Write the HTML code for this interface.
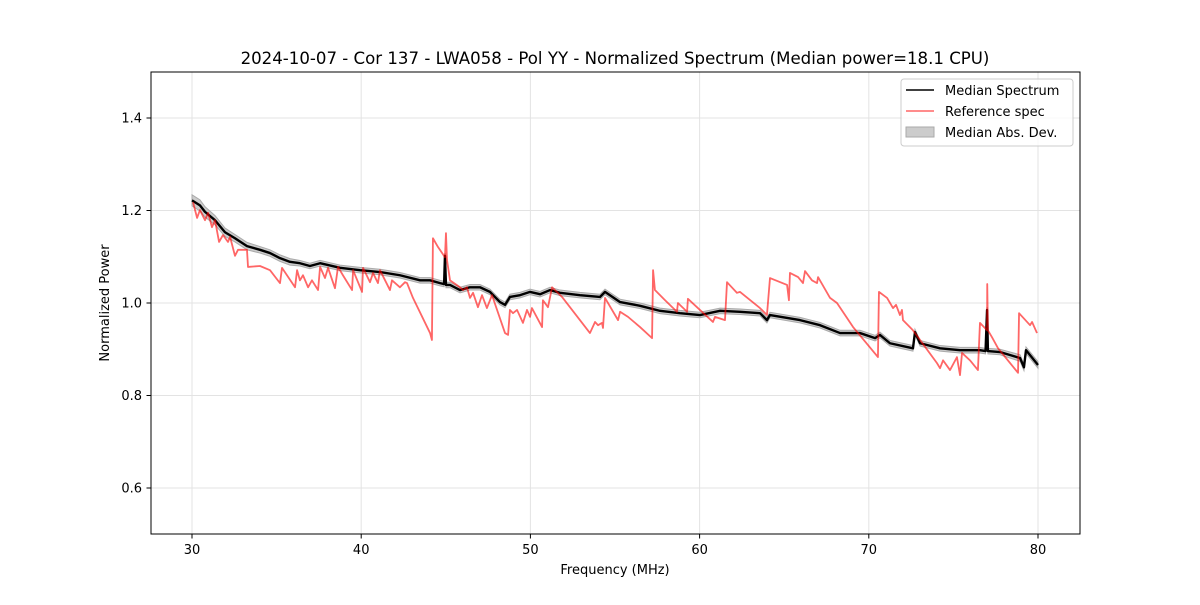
<!DOCTYPE html>
<html><head><meta charset="utf-8"><style>
body{margin:0;background:#fff;font-family:"Liberation Sans","DejaVu Sans",sans-serif}
svg text{font-family:"DejaVu Sans","Liberation Sans",sans-serif;fill:#000}
</style></head><body>
<svg id="chart" width="1200" height="600" viewBox="0 0 1200 600" xmlns="http://www.w3.org/2000/svg">
<rect width="1200" height="600" fill="#fff"/>
<g id="grid"></g>
<g id="marks"></g>
<rect x="151" y="72" width="929" height="462" fill="none" stroke="#000" stroke-width="1"/>
<g id="ticks"></g>
<text x="615" y="64" font-size="16.6" text-anchor="middle">2024-10-07 - Cor 137 - LWA058 - Pol YY - Normalized Spectrum (Median power=18.1 CPU)</text>
<text x="615" y="574" font-size="13" text-anchor="middle">Frequency (MHz)</text>
<text transform="translate(109,303) rotate(-90)" font-size="13" text-anchor="middle">Normalized Power</text>
<g>
<rect x="901" y="79" width="172" height="67" rx="3" fill="#fff" fill-opacity="0.8" stroke="#ccc"/>
<line x1="906" y1="90" x2="934" y2="90" stroke="#000" stroke-width="1.6"/>
<text x="945" y="95" font-size="13">Median Spectrum</text>
<line x1="906" y1="111" x2="934" y2="111" stroke="#ff5555" stroke-opacity="0.9" stroke-width="1.6"/>
<text x="945" y="116" font-size="13">Reference spec</text>
<rect x="906" y="127" width="28" height="10" fill="#ccc" stroke="#aaa"/>
<text x="945" y="137" font-size="13">Median Abs. Dev.</text>
</g>
</svg>
<script>
const xTicks=[30,40,50,60,70,80];
const yTicks=[0.6,0.8,1.0,1.2,1.4];
const yTickLabels=["0.6","0.8","1.0","1.2","1.4"];
const refFreq=[30.06,30.30,30.47,30.77,30.95,31.18,31.36,31.60,31.83,32.13,32.25,32.54,32.72,33.25,33.31,34.02,34.61,35.20,35.32,36.09,36.21,36.38,36.56,36.86,37.09,37.45,37.57,37.86,38.04,38.45,38.63,38.92,39.46,39.52,40.05,40.11,40.52,40.70,40.99,41.11,41.70,41.82,42.29,42.59,42.71,43.06,44.07,44.18,44.24,44.54,44.95,45.01,45.07,45.25,45.84,46.02,46.25,46.43,46.61,46.90,47.14,47.43,47.73,48.50,48.68,48.79,48.97,49.21,49.56,49.80,49.98,50.09,50.69,50.74,51.04,51.28,51.87,53.52,53.82,54.00,54.23,54.29,54.41,55.18,55.30,55.77,56.48,57.19,57.25,57.36,57.96,58.66,58.72,59.26,59.31,60.02,60.79,60.91,61.50,61.62,62.21,62.39,63.57,63.98,64.16,65.17,65.28,65.34,65.82,66.11,66.23,66.64,66.94,67.00,67.71,68.12,69.07,70.54,70.60,71.08,71.43,71.61,71.84,71.96,72.02,72.61,74.03,74.21,74.39,74.80,75.21,75.39,75.51,75.98,76.45,76.57,76.99,77.00,77.04,77.28,77.64,78.82,78.88,79.53,79.65,79.94];
const refPower=[1.218,1.184,1.201,1.179,1.195,1.164,1.179,1.132,1.147,1.132,1.143,1.102,1.115,1.115,1.078,1.080,1.071,1.043,1.076,1.034,1.071,1.049,1.060,1.034,1.049,1.028,1.078,1.054,1.076,1.032,1.078,1.060,1.028,1.071,1.024,1.076,1.045,1.065,1.043,1.071,1.028,1.049,1.034,1.045,1.043,1.011,0.935,0.920,1.140,1.121,1.099,1.151,1.093,1.049,1.034,1.028,1.034,1.011,1.022,0.991,1.017,0.989,1.017,0.935,0.931,0.985,0.978,0.985,0.957,0.985,0.970,0.989,0.948,1.006,0.991,1.034,1.013,0.935,0.959,0.952,0.957,0.946,1.011,0.963,0.981,0.970,0.948,0.924,1.071,1.028,1.006,0.981,1.000,0.981,1.009,0.985,0.959,0.970,0.963,1.045,1.022,1.024,0.989,0.974,1.054,1.039,1.006,1.065,1.056,1.043,1.069,1.049,1.043,1.056,1.011,1.000,0.948,0.883,1.024,1.011,0.989,0.996,0.974,0.985,0.963,0.941,0.870,0.859,0.876,0.855,0.883,0.844,0.892,0.876,0.855,0.957,0.941,1.041,0.941,0.926,0.902,0.849,0.978,0.952,0.959,0.935];
const medFreq=[30.00,30.47,30.77,31.36,31.95,32.54,33.25,34.02,34.61,35.20,35.79,36.38,36.97,37.57,38.75,39.93,41.11,42.29,43.48,44.07,44.66,44.90,44.95,45.01,45.25,45.84,46.43,47.02,47.61,48.20,48.50,48.79,49.39,49.98,50.57,51.16,51.75,52.93,54.11,54.41,55.30,56.48,57.66,58.84,60.02,61.21,62.39,63.57,63.98,64.16,65.93,67.12,68.30,69.48,70.37,70.66,71.25,72.61,72.73,73.03,74.21,75.39,76.57,76.90,76.99,77.04,77.75,78.94,79.17,79.29,80.00];
const medPower=[1.222,1.211,1.197,1.179,1.153,1.140,1.123,1.115,1.108,1.097,1.089,1.086,1.080,1.086,1.076,1.071,1.067,1.060,1.049,1.049,1.043,1.041,1.102,1.039,1.039,1.028,1.034,1.034,1.024,1.002,0.996,1.013,1.017,1.024,1.019,1.028,1.022,1.017,1.013,1.024,1.002,0.994,0.983,0.978,0.974,0.983,0.981,0.978,0.963,0.974,0.963,0.952,0.935,0.935,0.924,0.931,0.913,0.902,0.937,0.913,0.902,0.898,0.898,0.896,0.985,0.896,0.894,0.881,0.861,0.898,0.866];
const madWidth=[0.012,0.012,0.011,0.010,0.009,0.008,0.008,0.007,0.007,0.007,0.007,0.006,0.006,0.006,0.006,0.006,0.006,0.006,0.006,0.006,0.006,0.006,0.006,0.006,0.006,0.006,0.006,0.006,0.006,0.006,0.006,0.006,0.006,0.006,0.006,0.006,0.006,0.006,0.006,0.006,0.006,0.006,0.006,0.006,0.006,0.006,0.006,0.006,0.006,0.006,0.006,0.006,0.006,0.006,0.006,0.006,0.006,0.006,0.006,0.006,0.006,0.006,0.006,0.006,0.006,0.006,0.006,0.007,0.007,0.007,0.007];

const NS="http://www.w3.org/2000/svg";
const X=f=>192+(f-30)*(1038-192)/50;
const Y=v=>303-(v-1.0)*462.5;
const grid=document.getElementById('grid'),marks=document.getElementById('marks'),ticks=document.getElementById('ticks');
function mk(tag,attrs,parent){const e=document.createElementNS(NS,tag);for(const k in attrs)e.setAttribute(k,attrs[k]);parent.appendChild(e);return e;}
xTicks.forEach(t=>{
  const g=mk('line',{x1:X(t),x2:X(t),y1:72,y2:534,stroke:'#e3e3e3','stroke-width':1},grid);
  
  
  const tk=mk('line',{x1:X(t),x2:X(t),y1:534,y2:538.5,stroke:'#000'},ticks);
  
  
  const tx=mk('text',{x:X(t),y:554,'font-size':13,'text-anchor':'middle'},ticks);
  tx.textContent=String(t);
  
  
});
yTicks.forEach((t,i)=>{
  const g=mk('line',{x1:151,x2:1080,y1:Y(t),y2:Y(t),stroke:'#e3e3e3','stroke-width':1},grid);
  
  
  const tk=mk('line',{x1:146.5,x2:151,y1:Y(t),y2:Y(t),stroke:'#000'},ticks);
  
  
  const tx=mk('text',{x:142,y:Y(t)+4.5,'font-size':13,'text-anchor':'end'},ticks);
  tx.textContent=yTickLabels[i];
  
  
});
let up=medFreq.map((f,i)=>X(f)+','+Y(medPower[i]+madWidth[i]));
let dn=medFreq.map((f,i)=>X(f)+','+Y(medPower[i]-madWidth[i])).reverse();
const band=mk('polygon',{points:up.concat(dn).join(' '),fill:'#bbb','fill-opacity':0.75,stroke:'#aaa','stroke-width':1},marks);


const med=mk('polyline',{points:medFreq.map((f,i)=>X(f)+','+Y(medPower[i])).join(' '),fill:'none',stroke:'#000','stroke-width':2.4,'stroke-linejoin':'round'},marks);


const ref=mk('polyline',{points:refFreq.map((f,i)=>X(f)+','+Y(refPower[i])).join(' '),fill:'none',stroke:'#ff0000','stroke-opacity':0.6,'stroke-width':1.8,'stroke-linejoin':'round'},marks);


</script>
</body></html>
